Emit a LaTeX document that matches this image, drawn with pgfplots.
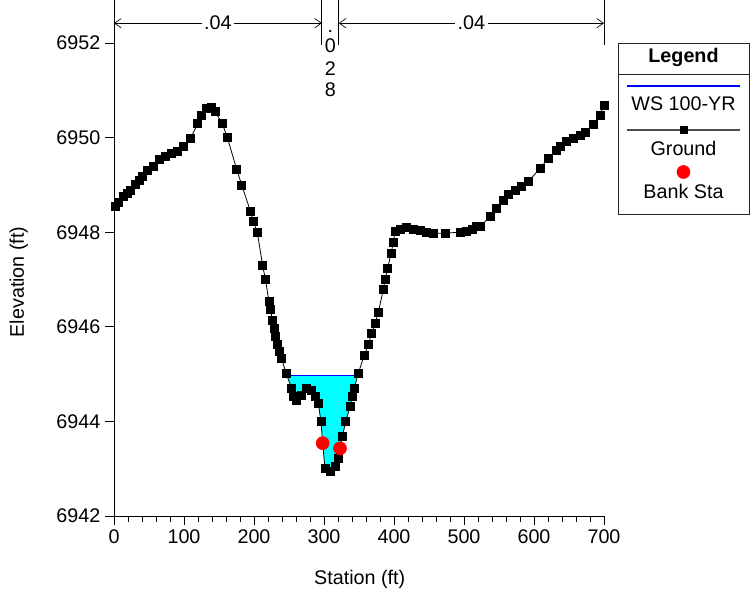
\documentclass[border=0pt]{standalone}
\usepackage{pgfplots}
\pgfplotsset{compat=1.18}
\usepackage{fontspec}
\setmainfont{Liberation Sans}
\usetikzlibrary{arrows.meta}
\definecolor{wscyan}{RGB}{0,255,255}
\definecolor{wsblue}{RGB}{0,0,255}
\definecolor{bankred}{RGB}{255,0,0}

\pgfplotstableread{
x y
1.4 6948.55
7.0 6948.64
13.3 6948.75
18.5 6948.82
23.9 6948.89
31.0 6949.02
36.0 6949.10
41.0 6949.19
48.1 6949.30
56.1 6949.40
64.7 6949.53
72.9 6949.60
81.4 6949.67
90.4 6949.70
99.0 6949.81
109.6 6949.99
119.6 6950.30
125.3 6950.48
132.4 6950.62
139.6 6950.64
144.3 6950.55
154.7 6950.30
161.9 6950.00
175.3 6949.33
182.4 6949.00
195.3 6948.43
199.0 6948.22
204.7 6948.00
212.4 6947.29
216.4 6947.00
221.4 6946.53
223.9 6946.36
226.1 6946.14
228.6 6945.97
231.0 6945.79
233.3 6945.62
235.7 6945.47
239.6 6945.33
245.7 6945.02
253.9 6944.70
256.1 6944.52
261.0 6944.45
268.1 6944.56
275.3 6944.70
282.4 6944.66
287.1 6944.52
291.9 6944.38
295.7 6943.99
298.1 6943.54
301.4 6943.01
308.6 6942.94
315.7 6943.04
320.4 6943.22
322.9 6943.43
326.1 6943.68
331.0 6943.99
337.1 6944.31
340.4 6944.52
343.3 6944.70
349.0 6945.02
357.6 6945.40
363.3 6945.62
368.1 6945.86
372.9 6946.07
377.6 6946.30
384.7 6946.79
387.1 6947.00
391.0 6947.24
395.7 6947.55
399.0 6947.78
401.4 6948.01
408.6 6948.06
418.1 6948.10
427.6 6948.06
437.1 6948.03
446.7 6948.00
456.1 6947.98
472.9 6947.98
494.3 6948.00
503.9 6948.01
512.0 6948.07
518.1 6948.13
522.9 6948.12
537.1 6948.33
546.7 6948.51
556.1 6948.68
563.3 6948.79
572.9 6948.89
582.4 6948.96
591.9 6949.07
608.6 6949.35
620.4 6949.56
631.4 6949.74
637.1 6949.81
646.7 6949.91
656.1 6949.99
665.7 6950.05
672.9 6950.12
684.7 6950.27
694.3 6950.48
700.0 6950.69
}\ground

\pgfplotstableread{
x y
247.0 6944.98
253.9 6944.70
256.1 6944.52
261.0 6944.45
268.1 6944.56
275.3 6944.70
282.4 6944.66
287.1 6944.52
291.9 6944.38
295.7 6943.99
298.1 6943.54
301.4 6943.01
308.6 6942.94
315.7 6943.04
320.4 6943.22
322.9 6943.43
326.1 6943.68
331.0 6943.99
337.1 6944.31
340.4 6944.52
343.3 6944.70
348.0 6944.98
}\water

\begin{document}
\begin{tikzpicture}[font=\fontsize{14.8}{17}\selectfont]
\begin{axis}[
  scale only axis, width=367.5pt, height=387pt,
  xmin=0, xmax=700, ymin=6942, ymax=6952.91,
  axis x line=bottom, axis y line=left,
  axis line style={-, line width=0.6pt},
  tick align=outside,
  xtick={0,100,...,700}, minor x tick num=4,
  ytick={6942,6944,...,6952}, minor y tick num=4,
  major tick length=6.75pt, minor tick length=4.5pt,
  tick style={black, line width=0.6pt},
  /pgf/number format/assume math mode=true,
  /pgf/number format/set thousands separator={},
  xlabel={Station (ft)}, ylabel={Elevation (ft)},
  xlabel style={at={(axis cs:351,6940.65)}, anchor=center},
  ylabel style={at={(axis cs:-136,6946.95)}, anchor=center, rotate=0},
  clip=false,
]
\addplot[fill=wscyan, draw=none] table {\water} -- cycle;
\addplot[wsblue, line width=0.8pt] coordinates {(247,6944.98) (348,6944.98)};
\addplot[black, line width=0.6pt, mark=square*, mark size=3.0pt] table {\ground};
\addplot[only marks, mark=*, bankred, mark size=4.9pt] coordinates {(298.1,6943.54) (322.9,6943.43)};

% Manning's n annotations
\draw[line width=0.6pt] (axis cs:297,6952.91) -- (axis cs:297,6951.96);
\draw[line width=0.6pt] (axis cs:321,6952.91) -- (axis cs:321,6951.96);
\draw[line width=0.6pt] (axis cs:700,6952.91) -- (axis cs:700,6951.96);
\draw[line width=0.5pt, {Straight Barb[length=5pt,width=7pt]}-{Straight Barb[length=5pt,width=7pt]}]
  (axis cs:0,6952.42) -- (axis cs:297,6952.42) node[midway, fill=white, inner sep=2pt] {.04};
\draw[line width=0.5pt, {Straight Barb[length=5pt,width=7pt]}-{Straight Barb[length=5pt,width=7pt]}]
  (axis cs:321,6952.42) -- (axis cs:700,6952.42) node[midway, fill=white, inner sep=2pt] {.04};
\node[anchor=base, inner sep=0pt] at (axis cs:309,6952.23) {.};
\node[anchor=base, inner sep=0pt] at (axis cs:309,6951.79) {0};
\node[anchor=base, inner sep=0pt] at (axis cs:309,6951.32) {2};
\node[anchor=base, inner sep=0pt] at (axis cs:309,6950.88) {8};
\end{axis}

% Legend box as a small axis
\begin{axis}[
  at={(378pt,226.5pt)}, anchor=south west,
  scale only axis, width=98.25pt, height=128.25pt,
  xmin=0, xmax=131, ymin=0, ymax=171,
  xtick=\empty, ytick=\empty,
  axis line style={black!85, line width=0.6pt},
  clip=false,
]
\draw[black!85, line width=0.6pt] (axis cs:0,140) -- (axis cs:131,140);
\node at (axis cs:65.5,157) {\bfseries Legend};
\addplot[wsblue, line width=0.8pt] coordinates {(9,128) (122,128)};
\node at (axis cs:65.5,110) {WS 100-YR};
\addplot[black!70, line width=0.8pt] coordinates {(9,84) (122,84)};
\addplot[only marks, black, mark=square*, mark size=2.6pt] coordinates {(65.5,84)};
\node at (axis cs:65.5,66) {Ground};
\addplot[only marks, bankred, mark=*, mark size=4.9pt] coordinates {(65.5,42)};
\node at (axis cs:65.5,23) {Bank Sta};
\end{axis}

\pgfresetboundingbox
\path (-85.5pt,-60pt) rectangle (477.75pt,387pt);
\end{tikzpicture}
\end{document}
